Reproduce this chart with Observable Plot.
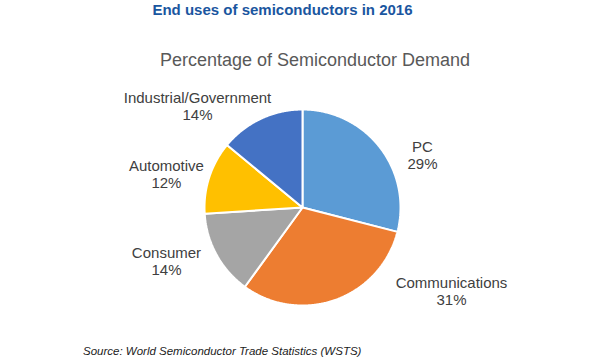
<!DOCTYPE html>
<html>
<head>
<meta charset="utf-8">
<script src="https://cdn.jsdelivr.net/npm/d3@7"></script>
<script src="https://cdn.jsdelivr.net/npm/@observablehq/plot@0.6"></script>
<style>
  html, body { margin: 0; padding: 0; background: #fff; }
  #wrap { position: relative; width: 600px; height: 361px; overflow: hidden; font-family: "Liberation Sans", Arial, sans-serif; }
  #chart { position: absolute; left: 0; top: 0; }
  .t { position: absolute; white-space: nowrap; }
  #title { left: 0; width: 565px; top: 2.3px; text-align: center; font-size: 15px; line-height: 15px; font-weight: bold; color: #1a56a0; }
  #subtitle { left: 0; width: 630px; top: 50.8px; text-align: center; font-size: 18px; line-height: 18px; color: #595959; }
  #caption { left: 83px; top: 346.3px; font-size: 11.5px; line-height: 11.5px; font-style: italic; color: #222; }
</style>
</head>
<body>
<div id="wrap">
  <div id="chart"></div>
  <div class="t" id="title">End uses of semiconductors in 2016</div>
  <div class="t" id="subtitle">Percentage of Semiconductor Demand</div>
  <div class="t" id="caption">Source: World Semiconductor Trade Statistics (WSTS)</div>
</div>
<script>
// ---- data ----
const categories = ["PC", "Communications", "Consumer", "Automotive", "Industrial/Government"];
const shares = [29, 31, 14, 12, 14];

// ---- styles ----
const palette = ["#5B9BD5", "#ED7D31", "#A5A5A5", "#FFC000", "#4472C4"];
// label nudges (data units) relative to the mid-angle anchor, mimicking Excel's "best fit"
const labelNudge = {
  "PC": [0.197, -0.266],
  "Communications": [1.08, 0.366],
  "Consumer": [-0.249, 0.075],
  "Automotive": [-0.152, -0.065],
  "Industrial/Government": [-0.518, -0.146]
};

const arcs = d3.pie().sort(null).value(d => d)(shares);

const slicePts = [];
arcs.forEach((a, i) => {
  const cat = categories[i];
  slicePts.push({cat, x: 0, y: 0});
  const n = Math.max(2, Math.ceil((a.endAngle - a.startAngle) / (Math.PI / 360)));
  for (let k = 0; k <= n; k++) {
    const t = a.startAngle + (a.endAngle - a.startAngle) * k / n;
    slicePts.push({cat, x: Math.sin(t), y: Math.cos(t)});
  }
  slicePts.push({cat, x: 0, y: 0});
});

const labels = arcs.map((a, i) => {
  const mid = (a.startAngle + a.endAngle) / 2;
  const cat = categories[i];
  const [nx, ny] = labelNudge[cat];
  return {cat, text: cat + "\n" + shares[i] + "%", x: Math.sin(mid) * 1.3 + nx, y: Math.cos(mid) * 1.3 + ny};
});

const chart = Plot.plot({
  width: 600,
  height: 361,
  marginLeft: 204,
  marginRight: 200,
  marginTop: 109,
  marginBottom: 56,
  x: {domain: [-1, 1], axis: null},
  y: {domain: [-1, 1], axis: null},
  color: {domain: categories, range: palette},
  style: {fontFamily: "'Liberation Sans', Arial, sans-serif", background: "transparent", overflow: "visible"},
  marks: [
    Plot.line(slicePts, {x: "x", y: "y", z: "cat", fill: "cat", stroke: "white", strokeWidth: 2, curve: "linear", strokeLinejoin: "miter"}),
    Plot.text(labels, {x: "x", y: "y", text: "text", fontSize: 15, fill: "#404040", lineAnchor: "middle", lineHeight: 1.13, textAnchor: "middle"})
  ]
});
document.getElementById("chart").appendChild(chart);
</script>
</body>
</html>
